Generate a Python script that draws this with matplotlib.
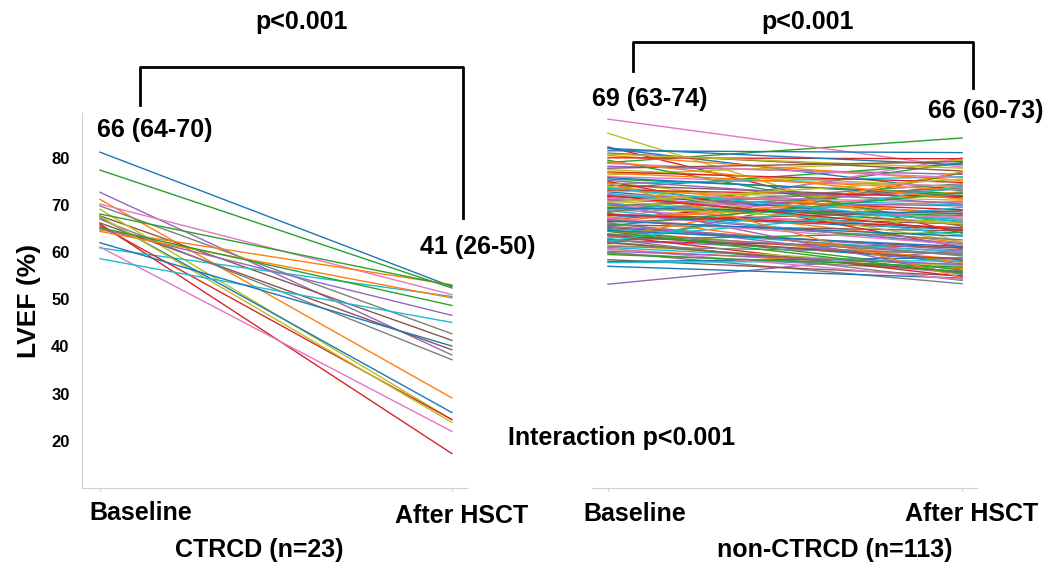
import matplotlib
matplotlib.use("Agg")
import matplotlib.pyplot as plt
from matplotlib.lines import Line2D

plt.rcParams['font.family'] = ['Liberation Sans', 'DejaVu Sans']
plt.rcParams['font.weight'] = 'bold'

# CTRCD group (n=23): LVEF at baseline and after HSCT
ctrcd_base = [81.2, 71.2, 77.4, 66.0, 72.7, 67.7, 70.2, 69.8, 69.1, 60.9,
              67.4, 64.7, 68.1, 65.6, 65.0, 66.2, 61.1, 67.0, 67.6, 58.6,
              62.0, 64.4, 65.2]
ctrcd_after = [52.7, 29.1, 52.4, 17.3, 38.2, 41.3, 51.0, 42.7, 24.5, 50.6,
               26.0, 53.1, 52.9, 24.5, 46.6, 39.3, 22.0, 37.2, 23.9, 45.1,
               40.1, 50.3, 48.7]

# non-CTRCD group (n=113)
non_base = [82.0, 70.5, 79.0, 82.3, 53.2, 68.0, 88.2, 60.0, 85.2, 72.0,
            81.5, 64.5, 75.5, 66.8, 71.2, 58.4, 63.2, 69.5, 74.8, 61.0,
            57.0, 67.3, 73.5, 62.4, 78.2, 65.8, 70.0, 59.8, 76.4, 68.8,
            63.8, 80.5, 61.8, 71.8, 66.2, 74.2, 69.0, 62.8, 77.5, 65.0,
            72.8, 60.6, 68.4, 75.0, 62.5, 81.0, 67.0, 62.2, 73.0, 70.2,
            58.0, 66.5, 79.5, 63.5, 71.0, 65.2, 76.0, 69.8, 61.5, 74.5,
            67.8, 73.8, 64.8, 80.0, 68.2, 62.0, 72.2, 66.0, 70.8, 57.8,
            75.8, 63.0, 69.2, 77.0, 65.5, 71.5, 60.8, 68.6, 74.0, 62.9,
            82.0, 67.5, 62.6, 73.2, 70.4, 66.4, 78.8, 61.2, 69.6, 72.5,
            64.6, 76.8, 59.5, 68.0, 75.2, 63.6, 71.4, 66.9, 80.8, 62.3,
            69.4, 74.6, 65.6, 72.0, 60.2, 77.8, 67.2, 63.9, 70.6, 73.6,
            66.6, 79.2, 64.4]
non_after = [73.0, 62.0, 84.2, 64.0, 60.5, 66.0, 78.0, 53.3, 62.0, 70.0,
             81.1, 58.5, 72.4, 74.2, 68.5, 55.0, 60.2, 74.5, 66.8, 57.2,
             54.5, 70.8, 78.8, 61.0, 76.5, 64.5, 67.5, 56.0, 79.5, 61.5,
             58.0, 75.2, 76.8, 69.0, 57.5, 71.5, 65.0, 54.0, 73.8, 60.0,
             66.5, 56.5, 79.0, 61.0, 59.5, 77.2, 80.0, 55.5, 71.0, 67.0,
             58.8, 72.8, 65.5, 54.8, 69.8, 60.8, 74.0, 73.6, 57.0, 76.0,
             64.8, 68.0, 56.2, 79.8, 61.8, 55.8, 70.5, 59.2, 66.2, 58.2,
             72.0, 77.0, 67.8, 74.8, 60.4, 65.8, 54.2, 73.4, 62.2, 69.5,
             78.5, 57.8, 64.2, 71.8, 55.2, 68.8, 75.8, 59.8, 66.0, 63.6,
             61.2, 73.2, 56.8, 65.2, 70.2, 58.4, 67.2, 62.6, 77.8, 74.0,
             68.2, 54.6, 72.6, 64.6, 57.4, 79.2, 61.6, 59.6, 75.5, 66.4,
             63.4, 71.2, 55.6]

x_labels = ['Baseline', 'After HSCT']
yticks = [20, 30, 40, 50, 60, 70, 80]

W, H = 1049, 569
fig = plt.figure(figsize=(W / 100, H / 100), dpi=100)

def fx(x):
    return x / W

def fy(y):
    return 1 - y / H

ax1 = fig.add_axes([fx(82), fy(488), 385 / W, 375 / H])
ax2 = fig.add_axes([fx(592), fy(488), 385 / W, 375 / H])

for b, a in zip(ctrcd_base, ctrcd_after):
    ax1.plot([0, 1], [b, a], lw=1.0)
for b, a in zip(non_base, non_after):
    ax2.plot([0, 1], [b, a], lw=1.0)

for ax in (ax1, ax2):
    ax.set_ylim(10, 89.5)
    ax.spines['top'].set_visible(False)
    ax.spines['right'].set_visible(False)
    ax.spines['bottom'].set_color('#d0d0d0')
    ax.spines['left'].set_color('#d0d0d0')
    ax.set_xticks([0, 1])
    ax.set_xticklabels([])
    ax.tick_params(axis='x', length=2, color='#d0d0d0')
ax1.set_xlim(-0.051, 1.043)
ax2.set_xlim(-0.045, 1.042)

ax1.set_yticks(yticks)
ax1.set_yticklabels([str(v) for v in yticks], fontsize=12, fontweight='bold')
ax1.tick_params(axis='y', length=0, pad=9)
ax1.set_ylabel('LVEF (%)', fontsize=19, fontweight='bold', labelpad=7)

ax2.spines['left'].set_visible(False)
ax2.set_yticks([])

# x category labels and group names
fig.text(fx(141), fy(513), x_labels[0], fontsize=18, fontweight='bold', ha='center', va='center')
fig.text(fx(462), fy(516), x_labels[1], fontsize=18, fontweight='bold', ha='center', va='center')
fig.text(fx(259), fy(550), 'CTRCD (n=23)', fontsize=18, fontweight='bold', ha='center', va='center')
fig.text(fx(635), fy(514), x_labels[0], fontsize=18, fontweight='bold', ha='center', va='center')
fig.text(fx(972), fy(514), x_labels[1], fontsize=18, fontweight='bold', ha='center', va='center')
fig.text(fx(835), fy(550), 'non-CTRCD (n=113)', fontsize=18, fontweight='bold', ha='center', va='center')

# medians (IQR)
fig.text(fx(97), fy(130), '66 (64-70)', fontsize=18, fontweight='bold', ha='left', va='center')
fig.text(fx(420), fy(247), '41 (26-50)', fontsize=18, fontweight='bold', ha='left', va='center')
fig.text(fx(592), fy(99), '69 (63-74)', fontsize=18, fontweight='bold', ha='left', va='center')
fig.text(fx(928), fy(111), '66 (60-73)', fontsize=18, fontweight='bold', ha='left', va='center')

# significance brackets
def bracket(x0, x1, ytop, y0, y1):
    fig.add_artist(Line2D([fx(x0), fx(x0), fx(x1), fx(x1)],
                          [fy(y0), fy(ytop), fy(ytop), fy(y1)],
                          transform=fig.transFigure, color='black', lw=2))

bracket(140, 463, 67, 105, 218)
bracket(633, 973, 42, 71, 88)
fig.text(fx(302), fy(22), 'p<0.001', fontsize=18, fontweight='bold', ha='center', va='center')
fig.text(fx(808), fy(22), 'p<0.001', fontsize=18, fontweight='bold', ha='center', va='center')
fig.text(fx(508), fy(438), 'Interaction p<0.001', fontsize=18, fontweight='bold', ha='left', va='center')

fig.savefig('out.png', dpi=100)
